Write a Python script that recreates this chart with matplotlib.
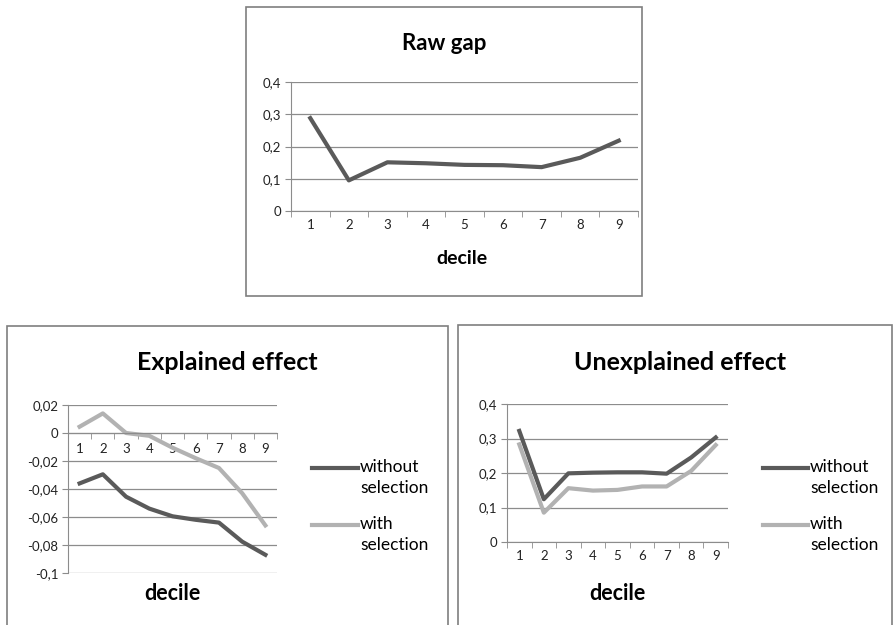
import matplotlib
matplotlib.use("Agg")
from matplotlib import pyplot as plt
from matplotlib.patches import Rectangle
import numpy as np

deciles = [1, 2, 3, 4, 5, 6, 7, 8, 9]

raw_gap = [0.288, 0.095, 0.151, 0.148, 0.143, 0.142, 0.136, 0.165, 0.218]

explained_without = [-0.036, -0.0295, -0.0455, -0.054, -0.0595, -0.062, -0.064, -0.0776, -0.087]
explained_with = [0.0045, 0.014, 0.0, -0.002, -0.0105, -0.018, -0.025, -0.043, -0.066]

unexplained_without = [0.322, 0.124, 0.199, 0.201, 0.202, 0.202, 0.198, 0.245, 0.303]
unexplained_with = [0.283, 0.085, 0.156, 0.149, 0.151, 0.161, 0.161, 0.206, 0.281]

W, H = 893, 625
DARK = '#5a5a5a'
LIGHT = '#b2b2b2'
GRID = '#8c8c8c'
FONT = 'Lato'

plt.rcParams['font.family'] = [FONT, 'DejaVu Sans']


def rect(x0, y0, x1, y1):
    # pixel box (top-left origin) -> figure fraction
    return [x0 / W, 1 - y1 / H, (x1 - x0) / W, (y1 - y0) / H]


def comma(v, step):
    if abs(v) < 1e-9:
        return '0'
    if step < 0.1:
        s = '%.2f' % v
        if s.endswith('0'):
            s = s[:-1]
    else:
        s = '%.1f' % v
    return s.replace('.', ',')


def style_axes(ax, ymin, ymax, step, zero_axis=False, lab_pad=3):
    ax.set_xlim(0.5, 9.5)
    ax.set_ylim(ymin, ymax)
    yt = np.round(np.arange(ymin, ymax + step / 2, step), 4)
    ax.set_yticks(yt)
    ax.set_yticklabels([comma(v, step) for v in yt])
    ax.set_xticks(deciles)
    ax.set_xticks(np.arange(0.5, 10, 1), minor=True)
    ax.tick_params(axis='x', which='major', length=0, pad=lab_pad, labelsize=9.5)
    ax.tick_params(axis='x', which='minor', length=4, color=GRID, direction='out')
    ax.tick_params(axis='y', length=4, color=GRID, labelsize=9.5, pad=3)
    ax.grid(axis='y', color=GRID, lw=0.9)
    ax.set_axisbelow(True)
    for s in ['top', 'right']:
        ax.spines[s].set_visible(False)
    ax.spines['left'].set_color(GRID)
    ax.spines['bottom'].set_color(GRID)
    if zero_axis:
        ax.spines['bottom'].set_position(('data', 0))
    for lab in ax.get_xticklabels() + ax.get_yticklabels():
        lab.set_color('#222222')


fig = plt.figure(figsize=(W / 100, H / 100), dpi=100)
fig.patch.set_facecolor('white')

# chart frames
for (x0, y0, x1, y1) in [(246, 7, 642, 296), (7, 326, 448, 640), (458, 325, 892, 640)]:
    fig.patches.append(Rectangle((x0 / W, 1 - y1 / H), (x1 - x0) / W, (y1 - y0) / H,
                                 transform=fig.transFigure, fill=False,
                                 edgecolor='#7f7f7f', lw=1.2))

# Raw gap
ax1 = fig.add_axes(rect(291, 82, 638, 211))
style_axes(ax1, 0, 0.4, 0.1, lab_pad=6)
ax1.plot(deciles, raw_gap, color=DARK, lw=3)
fig.text(444 / W, 1 - 43 / H, 'Raw gap', ha='center', va='center',
         fontsize=16, fontweight='bold')
fig.text(462 / W, 1 - 259 / H, 'decile', ha='center', va='center',
         fontsize=14, fontweight='bold')

# Explained effect
ax2 = fig.add_axes(rect(68, 405, 277, 573))
style_axes(ax2, -0.1, 0.02, 0.02, zero_axis=True, lab_pad=7)
ax2.plot(deciles, explained_without, color=DARK, lw=3)
ax2.plot(deciles, explained_with, color=LIGHT, lw=3)
fig.text(227 / W, 1 - 362 / H, 'Explained effect', ha='center', va='center',
         fontsize=18, fontweight='bold')
fig.text(172 / W, 1 - 593 / H, 'decile', ha='center', va='center',
         fontsize=15.5, fontweight='bold')

# Unexplained effect
ax3 = fig.add_axes(rect(507, 404, 728, 542))
style_axes(ax3, 0, 0.4, 0.1, lab_pad=6)
ax3.plot(deciles, unexplained_without, color=DARK, lw=3)
ax3.plot(deciles, unexplained_with, color=LIGHT, lw=3)
fig.text(680 / W, 1 - 362 / H, 'Unexplained effect', ha='center', va='center',
         fontsize=18, fontweight='bold')
fig.text(617 / W, 1 - 593 / H, 'decile', ha='center', va='center',
         fontsize=15.5, fontweight='bold')

# legends
for (lx0, lx1) in [(312, 358), (763, 808)]:
    for (ly, col, l1, l2) in [(467, DARK, 'without', 'selection'),
                              (524, LIGHT, 'with', 'selection')]:
        fig.add_artist(plt.Line2D([lx0 / W, lx1 / W], [1 - (ly + 1) / H, 1 - (ly + 1) / H],
                                  transform=fig.transFigure, color=col, lw=3))
        fig.text((lx1 + 2) / W, 1 - ly / H, l1, ha='left', va='center', fontsize=12.5)
        fig.text((lx1 + 2) / W, 1 - (ly + 21) / H, l2, ha='left', va='center', fontsize=12.5)

fig.savefig('out.png', dpi=100)
